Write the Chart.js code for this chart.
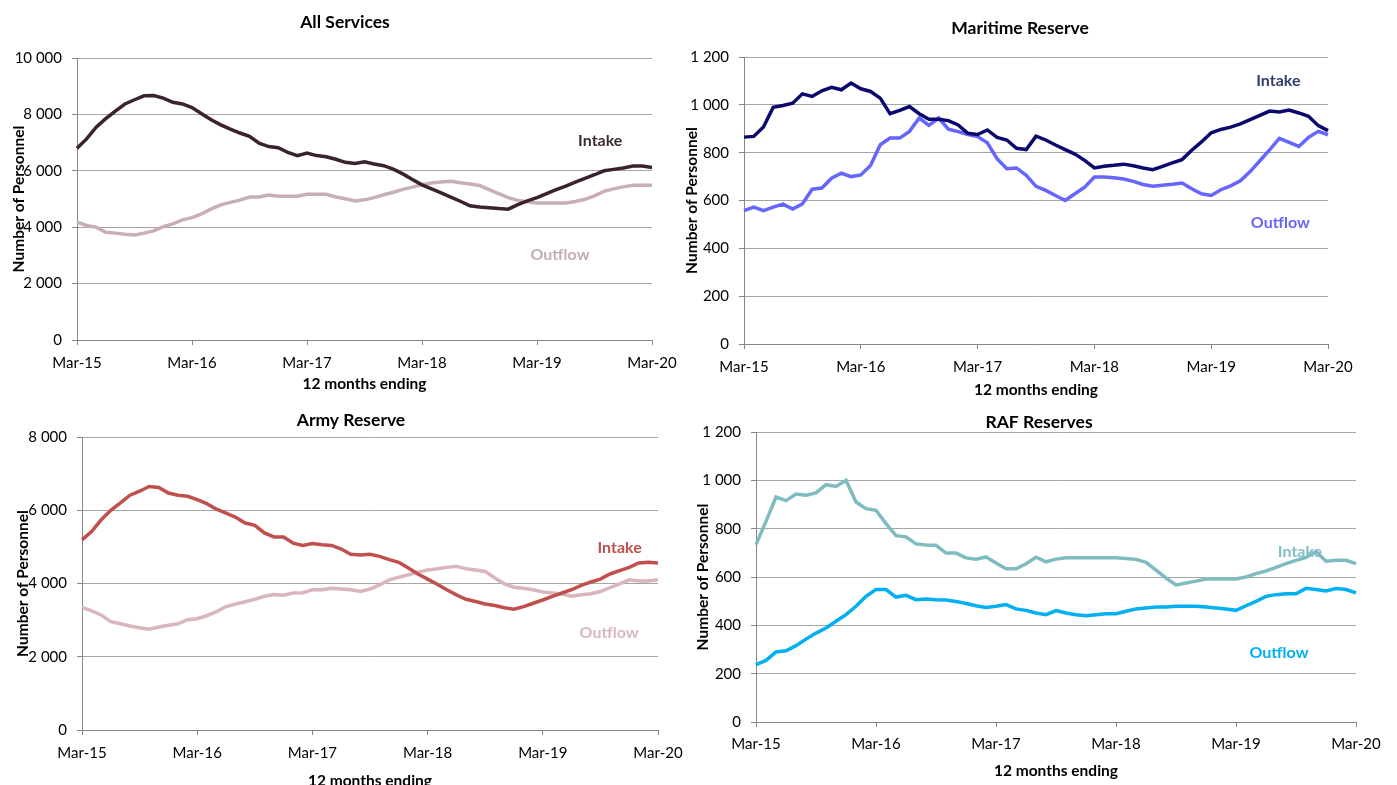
<!DOCTYPE html>
<html lang="en">
<head>
<meta charset="utf-8">
<title>Reserves intake and outflow</title>
<script src="https://cdn.jsdelivr.net/npm/chart.js@4.4.1/dist/chart.umd.min.js"></script>
<style>
  body { margin: 0; background: #fff; width: 1397px; height: 785px; overflow: hidden; position: relative; }
  canvas { position: absolute; }
</style>
</head>
<body>
<canvas id="cAll" width="690" height="400" style="left:0px;top:0px"></canvas>
<canvas id="cMaritime" width="717" height="400" style="left:680px;top:0px"></canvas>
<canvas id="cArmy" width="700" height="400" style="left:0px;top:400px"></canvas>
<canvas id="cRaf" width="717" height="385" style="left:680px;top:400px"></canvas>
<script>
// --- DATA ---

// 12 months ending, monthly from Mar-15 to Mar-20
const months = [
  'Mar-15','Apr-15','May-15','Jun-15','Jul-15','Aug-15','Sep-15','Oct-15','Nov-15','Dec-15','Jan-16','Feb-16',
  'Mar-16','Apr-16','May-16','Jun-16','Jul-16','Aug-16','Sep-16','Oct-16','Nov-16','Dec-16','Jan-17','Feb-17',
  'Mar-17','Apr-17','May-17','Jun-17','Jul-17','Aug-17','Sep-17','Oct-17','Nov-17','Dec-17','Jan-18','Feb-18',
  'Mar-18','Apr-18','May-18','Jun-18','Jul-18','Aug-18','Sep-18','Oct-18','Nov-18','Dec-18','Jan-19','Feb-19',
  'Mar-19','Apr-19','May-19','Jun-19','Jul-19','Aug-19','Sep-19','Oct-19','Nov-19','Dec-19','Jan-20','Feb-20',
  'Mar-20'
];
const yearTicks = ['Mar-15', 'Mar-16', 'Mar-17', 'Mar-18', 'Mar-19', 'Mar-20'];

const allIntake = [
  6800, 7130, 7550, 7850, 8120, 8370, 8520, 8660, 8670, 8580, 8430, 8370,
  8240, 8020, 7810, 7630, 7480, 7340, 7220, 6980, 6860, 6820, 6650, 6540,
  6630, 6540, 6500, 6410, 6300, 6260, 6320, 6240, 6180, 6060, 5890, 5690,
  5500, 5360, 5220, 5070, 4920, 4760, 4720, 4690, 4660, 4640, 4800, 4930,
  5050, 5190, 5330, 5460, 5600, 5730, 5860, 6000, 6050, 6100, 6170, 6170,
  6120
];
const allOutflow = [
  4180, 4060, 4000, 3820, 3790, 3750, 3720, 3790, 3870, 4020, 4120, 4260,
  4340, 4470, 4650, 4790, 4880, 4960, 5070, 5070, 5140, 5100, 5100, 5100,
  5170, 5170, 5170, 5070, 5010, 4930, 4970, 5050, 5150, 5240, 5340, 5420,
  5510, 5570, 5600, 5630, 5580, 5530, 5480, 5330, 5190, 5050, 4950, 4900,
  4860, 4860, 4860, 4860, 4910, 4990, 5110, 5270, 5360, 5430, 5490, 5490,
  5490
];

const maritimeIntake = [
  865, 868, 907, 990, 997, 1007, 1046, 1035, 1059, 1073, 1063, 1091,
  1067, 1056, 1028, 963, 977, 993, 963, 940, 940, 934, 916, 881,
  876, 895, 864, 853, 818, 813, 869, 853, 832, 813, 794, 768,
  736, 743, 747, 752, 745, 736, 729, 743, 757, 771, 810, 845,
  883, 897, 907, 920, 938, 956, 974, 970, 978, 966, 952, 913,
  892
];
const maritimeOutflow = [
  558, 572, 558, 572, 585, 564, 586, 647, 652, 693, 714, 700,
  707, 746, 833, 861, 861, 889, 945, 914, 945, 898, 888, 876,
  867, 841, 775, 733, 736, 705, 659, 642, 621, 600, 628, 656,
  698, 698, 695, 690, 680, 667, 660, 664, 668, 673, 649, 628,
  621, 645, 661, 682, 721, 766, 812, 860, 843, 826, 864, 889,
  875
];

const armyIntake = [
  5190, 5420, 5740, 6000, 6200, 6410, 6520, 6650, 6620, 6470, 6410, 6380,
  6290, 6180, 6030, 5920, 5810, 5650, 5590, 5380, 5270, 5270, 5100, 5040,
  5090, 5060, 5040, 4940, 4800, 4780, 4800, 4740, 4650, 4580, 4420, 4260,
  4120, 3980, 3830, 3690, 3570, 3510, 3440, 3400, 3340, 3300, 3370, 3460,
  3550, 3650, 3740, 3830, 3950, 4040, 4120, 4260, 4350, 4440, 4560, 4580,
  4560
];
const armyOutflow = [
  3350, 3250, 3140, 2960, 2900, 2840, 2790, 2750, 2810, 2860, 2900, 3010,
  3040, 3120, 3230, 3370, 3440, 3500, 3570, 3650, 3700, 3680, 3740, 3750,
  3830, 3830, 3870, 3850, 3830, 3780, 3850, 3960, 4100, 4170, 4240, 4310,
  4370, 4400, 4440, 4470, 4400, 4370, 4330, 4150, 3990, 3900, 3870, 3830,
  3770, 3740, 3710, 3650, 3690, 3720, 3780, 3890, 3990, 4100, 4070, 4070,
  4100
];

const rafIntake = [
  734, 830, 931, 916, 943, 938, 948, 982, 975, 1000, 910, 883,
  876, 821, 771, 766, 737, 732, 731, 699, 699, 679, 674, 683,
  658, 634, 634, 655, 682, 663, 674, 680, 680, 680, 680, 680,
  680, 677, 673, 661, 628, 596, 567, 575, 583, 592, 592, 592,
  592, 600, 614, 625, 640, 655, 669, 681, 706, 665, 669, 669,
  655
];
const rafOutflow = [
  237, 255, 290, 295, 316, 343, 368, 389, 417, 444, 479, 520,
  548, 548, 517, 524, 506, 509, 506, 505, 499, 490, 481, 474,
  479, 486, 468, 462, 451, 444, 461, 451, 444, 440, 444, 448,
  448, 458, 468, 472, 476, 476, 479, 479, 479, 476, 472, 468,
  462, 481, 499, 520, 527, 531, 531, 553, 548, 542, 552, 548,
  534
];

// --- STYLE ---

const FONT = 'Lato, Calibri, "Liberation Sans", sans-serif';
const GRID = '#a6a6a6';
const AXIS = '#868686';

// "10 000" style thousands separator
function fmt(v) {
  return String(v).replace(/\B(?=(\d{3})+(?!\d))/g, ' ');
}

// title + inline series labels (labels sit under the lines, like the original)
const panelText = {
  id: 'panelText',
  beforeDatasetsDraw(chart, args, opts) {
    const ctx = chart.ctx;
    ctx.save();
    ctx.textAlign = 'center';
    ctx.textBaseline = 'middle';
    ctx.font = 'bold 16px ' + FONT;
    opts.labels.forEach(l => {
      ctx.fillStyle = l.color;
      ctx.fillText(l.text, chart.scales.x.getPixelForValue(l.x), chart.scales.y.getPixelForValue(l.y));
    });
    ctx.restore();
  },
  afterDraw(chart, args, opts) {
    const ctx = chart.ctx;
    ctx.save();
    ctx.textAlign = 'center';
    ctx.textBaseline = 'middle';
    ctx.font = 'bold 17.5px ' + FONT;
    ctx.fillStyle = '#000';
    ctx.fillText(opts.title, opts.titleX, opts.titleY);
    ctx.restore();
  }
};

// --- CHARTS ---

function makePanel(id, p) {
  return new Chart(document.getElementById(id), {
    type: 'line',
    data: {
      labels: months,
      datasets: [
        { label: 'Intake', data: p.intake, borderColor: p.intakeColor },
        { label: 'Outflow', data: p.outflow, borderColor: p.outflowColor }
      ]
    },
    options: {
      responsive: false,
      animation: false,
      layout: { padding: { top: p.padTop, right: p.padRight, left: 0, bottom: 0 } },
      elements: {
        point: { radius: 0 },
        line: { tension: 0, borderWidth: 3.5, fill: false }
      },
      plugins: {
        legend: { display: false },
        tooltip: { enabled: false },
        panelText: { title: p.title, titleX: p.titleX, titleY: p.titleY, labels: p.labels }
      },
      scales: {
        x: {
          grid: {
            drawOnChartArea: false,
            tickLength: 5,
            tickColor: c => (yearTicks.includes(months[c.index]) ? AXIS : 'rgba(0,0,0,0)')
          },
          border: { color: AXIS, width: 1 },
          ticks: {
            autoSkip: false,
            maxRotation: 0,
            padding: p.xTickPad,
            color: '#000',
            font: { family: FONT, size: 15 },
            callback: (v, i) => (yearTicks.includes(months[i]) ? months[i] : '')
          },
          title: {
            display: true,
            text: '12 months ending',
            color: '#000',
            font: { family: FONT, size: 15.5, weight: 'bold' },
            padding: { top: 0, bottom: p.xTitlePad }
          },
          afterFit: s => { s.height = p.xHeight; }
        },
        y: {
          min: 0,
          max: p.max,
          grid: { color: GRID, tickLength: 5, tickColor: AXIS },
          border: { color: AXIS, width: 1 },
          ticks: {
            stepSize: p.step,
            padding: 10,
            color: '#000',
            font: { family: FONT, size: 15 },
            callback: v => fmt(v)
          },
          title: {
            display: true,
            text: 'Number of Personnel',
            color: '#000',
            font: { family: FONT, size: 15.5, weight: 'bold' },
            padding: { top: p.yTitlePad, bottom: 0 }
          },
          afterFit: s => { s.width = p.yWidth; }
        }
      }
    },
    plugins: [panelText]
  });
}

makePanel('cAll', {
  title: 'All Services', titleX: 345, titleY: 22,
  intake: allIntake, outflow: allOutflow,
  intakeColor: '#3b2230', outflowColor: '#c8aeb5',
  max: 10000, step: 2000,
  padTop: 58, padRight: 38, yWidth: 77, xHeight: 60,
  xTickPad: 9, xTitlePad: 6.7, yTitlePad: 9.7,
  labels: [
    { text: 'Intake', x: 54.6, y: 7060, color: '#3d2a33' },
    { text: 'Outflow', x: 50.4, y: 3020, color: '#c4adb2' }
  ]
});

makePanel('cMaritime', {
  title: 'Maritime Reserve', titleX: 340, titleY: 28,
  intake: maritimeIntake, outflow: maritimeOutflow,
  intakeColor: '#0a0a6e', outflowColor: '#6666ff',
  max: 1200, step: 200,
  padTop: 57, padRight: 69, yWidth: 64, xHeight: 56,
  xTickPad: 9, xTitlePad: 0.7, yTitlePad: 2.7,
  labels: [
    { text: 'Intake', x: 54.9, y: 1100, color: '#2e3f6e' },
    { text: 'Outflow', x: 55.1, y: 506, color: '#6666ff' }
  ]
});

makePanel('cArmy', {
  title: 'Army Reserve', titleX: 351, titleY: 20,
  intake: armyIntake, outflow: armyOutflow,
  intakeColor: '#c0504d', outflowColor: '#d8b6bb',
  max: 8000, step: 2000,
  padTop: 37, padRight: 42, yWidth: 82, xHeight: 70,
  xTickPad: 9, xTitlePad: 9.7, yTitlePad: 13.7,
  labels: [
    { text: 'Intake', x: 56.0, y: 4970, color: '#c0504d' },
    { text: 'Outflow', x: 54.9, y: 2650, color: '#d7b8bc' }
  ]
});

makePanel('cRaf', {
  title: 'RAF Reserves', titleX: 359, titleY: 22,
  intake: rafIntake, outflow: rafOutflow,
  intakeColor: '#7fbcc2', outflowColor: '#00b0f0',
  max: 1200, step: 200,
  padTop: 32, padRight: 41, yWidth: 76, xHeight: 63,
  xTickPad: 8.5, xTitlePad: 4.7, yTitlePad: 13.7,
  labels: [
    { text: 'Intake', x: 54.4, y: 705, color: '#7fbfc4' },
    { text: 'Outflow', x: 52.3, y: 287, color: '#00b0f0' }
  ]
});
</script>
</body>
</html>
